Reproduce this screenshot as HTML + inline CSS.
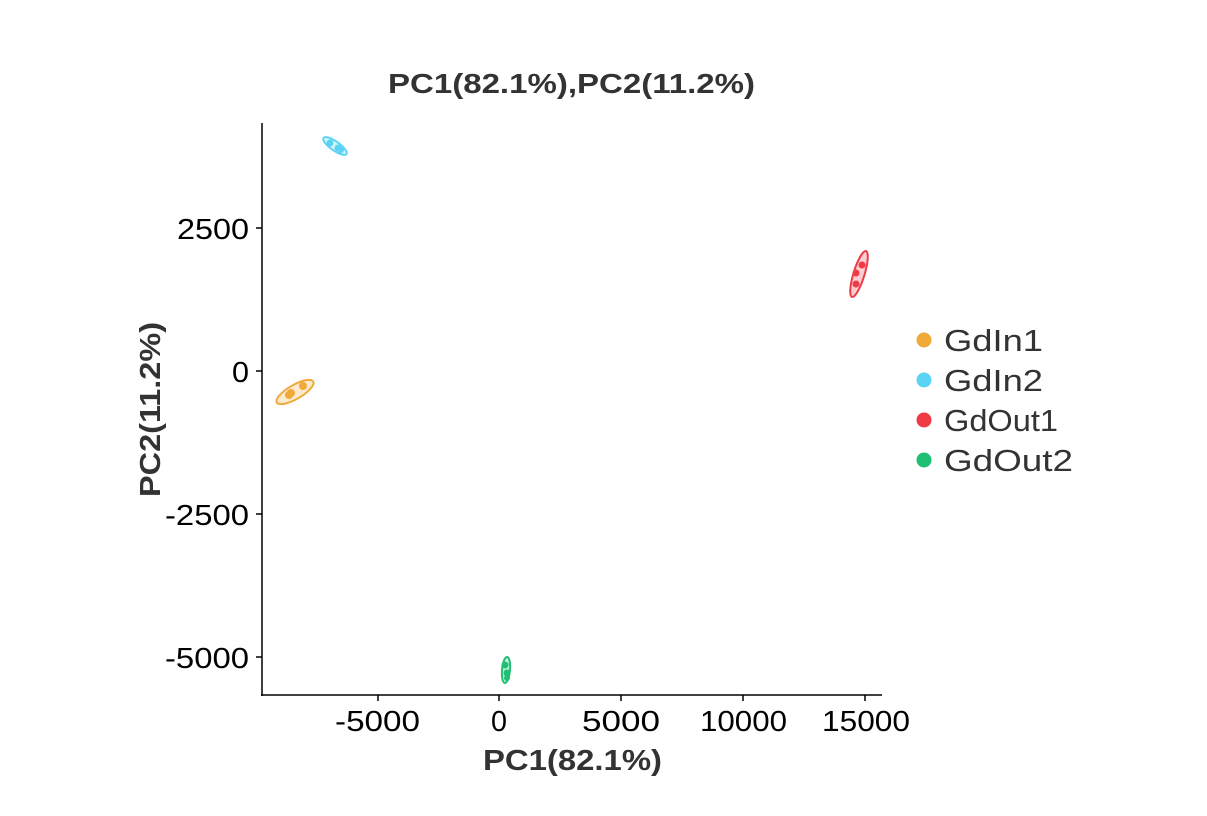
<!DOCTYPE html>
<html><head><style>body{margin:0;background:#fff}</style></head><body>
<svg width="1207" height="811" xmlns="http://www.w3.org/2000/svg" font-family="Liberation Sans, Arial, sans-serif">
<rect width="1207" height="811" fill="#fff"/>
<text x="388" y="93" font-size="28" font-weight="bold" fill="#333" textLength="367" lengthAdjust="spacingAndGlyphs">PC1(82.1%),PC2(11.2%)</text>
<line x1="262" y1="123" x2="262" y2="696" stroke="#000" stroke-width="1.5"/>
<line x1="261" y1="695" x2="882" y2="695" stroke="#000" stroke-width="1.5"/>
<g stroke="#000" stroke-width="1.5">
<line x1="256" y1="228" x2="262" y2="228"/><line x1="256" y1="371" x2="262" y2="371"/>
<line x1="256" y1="514" x2="262" y2="514"/><line x1="256" y1="657" x2="262" y2="657"/>
<line x1="378" y1="695" x2="378" y2="701"/><line x1="499" y1="695" x2="499" y2="701"/>
<line x1="621" y1="695" x2="621" y2="701"/><line x1="743" y1="695" x2="743" y2="701"/>
<line x1="865" y1="695" x2="865" y2="701"/>
</g>
<g font-size="29" fill="#000" lengthAdjust="spacingAndGlyphs">
<text x="177" y="239" textLength="72" lengthAdjust="spacingAndGlyphs">2500</text>
<text x="232" y="382" textLength="17" lengthAdjust="spacingAndGlyphs">0</text>
<text x="165" y="525" textLength="84" lengthAdjust="spacingAndGlyphs">-2500</text>
<text x="165" y="668" textLength="84" lengthAdjust="spacingAndGlyphs">-5000</text>
<text x="335" y="731" textLength="85" lengthAdjust="spacingAndGlyphs">-5000</text>
<text x="491" y="731" textLength="16" lengthAdjust="spacingAndGlyphs">0</text>
<text x="582" y="731" textLength="78" lengthAdjust="spacingAndGlyphs">5000</text>
<text x="700" y="731" textLength="87" lengthAdjust="spacingAndGlyphs">10000</text>
<text x="822" y="731" textLength="88" lengthAdjust="spacingAndGlyphs">15000</text>
</g>
<text x="483" y="770" font-size="29" font-weight="bold" fill="#333" textLength="179" lengthAdjust="spacingAndGlyphs">PC1(82.1%)</text>
<text transform="translate(160,497) rotate(-90)" font-size="29" font-weight="bold" fill="#333" textLength="175" lengthAdjust="spacingAndGlyphs">PC2(11.2%)</text>
<ellipse cx="335" cy="146" rx="14" ry="4.5" transform="rotate(35 335 146)" fill="#5BD3F5" fill-opacity="0.25" stroke="#5BD3F5" stroke-width="2"/>
<circle cx="330" cy="143" r="3.5" fill="#5BD3F5"/><circle cx="338" cy="148" r="3.5" fill="#5BD3F5"/><circle cx="341" cy="150" r="3" fill="#5BD3F5"/>
<ellipse cx="295" cy="392" rx="21" ry="7" transform="rotate(-30 295 392)" fill="#F0AA3A" fill-opacity="0.25" stroke="#F0AA3A" stroke-width="2"/>
<circle cx="303" cy="386" r="4" fill="#F0AA3A"/><circle cx="289" cy="395" r="4" fill="#F0AA3A"/><circle cx="291" cy="393" r="4" fill="#F0AA3A"/>
<ellipse cx="859" cy="274" rx="24" ry="5.5" transform="rotate(-73 859 274)" fill="#EE3B46" fill-opacity="0.25" stroke="#EE3B46" stroke-width="2"/>
<circle cx="862" cy="265" r="3.5" fill="#EE3B46"/><circle cx="856" cy="273" r="3.5" fill="#EE3B46"/><circle cx="856" cy="284" r="3.5" fill="#EE3B46"/>
<ellipse cx="506" cy="670" rx="13" ry="4" transform="rotate(-85 506 670)" fill="#1FBF74" fill-opacity="0.25" stroke="#1FBF74" stroke-width="2"/>
<circle cx="505" cy="665" r="3.5" fill="#1FBF74"/><circle cx="507" cy="673" r="3.5" fill="#1FBF74"/><circle cx="507" cy="678" r="3" fill="#1FBF74"/>
<g font-size="31" fill="#333">
<circle cx="924" cy="340" r="7.5" fill="#F0AA3A"/><text x="944" y="351" textLength="99" lengthAdjust="spacingAndGlyphs">GdIn1</text>
<circle cx="924" cy="380" r="7.5" fill="#5BD3F5"/><text x="944" y="391" textLength="99" lengthAdjust="spacingAndGlyphs">GdIn2</text>
<circle cx="924" cy="420" r="7.5" fill="#EE3B46"/><text x="944" y="431" textLength="114" lengthAdjust="spacingAndGlyphs">GdOut1</text>
<circle cx="924" cy="460" r="7.5" fill="#1FBF74"/><text x="944" y="471" textLength="129" lengthAdjust="spacingAndGlyphs">GdOut2</text>
</g>
</svg>
</body></html>
